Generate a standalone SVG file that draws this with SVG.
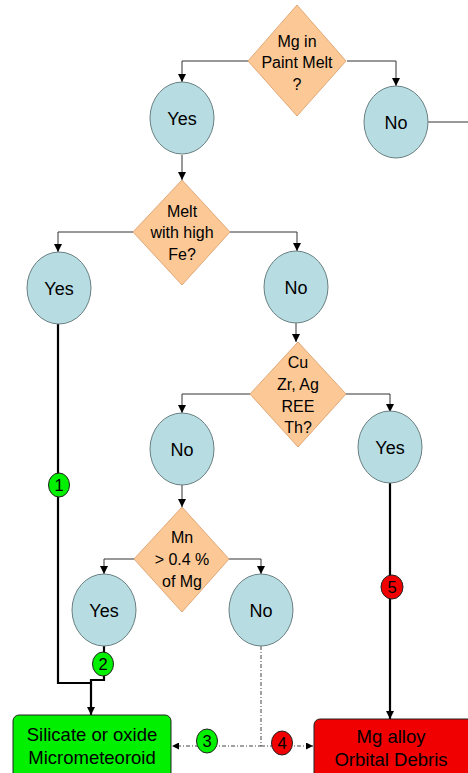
<svg xmlns="http://www.w3.org/2000/svg" width="468" height="773" viewBox="0 0 468 773">
<defs>
<marker id="ah" viewBox="0 0 8 8" refX="8" refY="4" markerWidth="8" markerHeight="8" markerUnits="userSpaceOnUse" orient="auto">
<path d="M0,0 L8,4 L0,8 z" fill="#000"/>
</marker>
<marker id="ahs" viewBox="0 0 8 8" refX="8" refY="4" markerWidth="7" markerHeight="7" markerUnits="userSpaceOnUse" orient="auto">
<path d="M0,0 L8,4 L0,8 z" fill="#000"/>
</marker>
</defs>
<style>
text{font-family:"Liberation Sans",Arial,sans-serif;fill:#000;text-anchor:middle}
.dia{fill:#fcc896;stroke:#e0a878;stroke-width:1}
.dt{font-size:16px}
.cir{fill:#b7dde2;stroke:#6a7f82;stroke-width:1}
.ct{font-size:18px}
.thin{fill:none;stroke:#333;stroke-width:1}
.thick{fill:none;stroke:#000;stroke-width:2.2}
.dash{fill:none;stroke:#444;stroke-width:1;stroke-dasharray:4,2,1,2}
.bg{fill:#00f000;stroke:#222;stroke-width:1}
.br{fill:#f00000;stroke:#222;stroke-width:1}
.bt{font-size:16.5px}
.box{font-size:18.5px}
</style>
<g id="connectors">
<path class="thin" d="M248,61 H182 V82" marker-end="url(#ah)"/>
<path class="thin" d="M347,61 H396 V86" marker-end="url(#ah)"/>
<path class="thin" d="M428,122 H468"/>
<path class="thin" d="M182,155 V180" marker-end="url(#ah)"/>
<path class="thin" d="M133,232 H58 V252" marker-end="url(#ah)"/>
<path class="thin" d="M230,232 H297 V251" marker-end="url(#ah)"/>
<path class="thin" d="M296,323 V342" marker-end="url(#ah)"/>
<path class="thin" d="M250,394 H182 V413" marker-end="url(#ah)"/>
<path class="thin" d="M346,394 H390 V412" marker-end="url(#ah)"/>
<path class="thin" d="M182,484 V507" marker-end="url(#ah)"/>
<path class="thin" d="M134,559 H104 V574" marker-end="url(#ah)"/>
<path class="thin" d="M229,559 H261 V574" marker-end="url(#ah)"/>
<path class="thick" d="M58,324 V683 H91"/>
<path class="thick" d="M104,646 V680 H91 V715" marker-end="url(#ah)"/>
<path class="thick" d="M390,483 V719" marker-end="url(#ah)"/>
<path class="dash" d="M261,646 V746 H172" marker-end="url(#ahs)"/>
<path class="dash" d="M261,746 H313" marker-end="url(#ahs)"/>
</g>
<g id="q1">
<polygon class="dia" points="297,5 346,61 297,116 248,61"/>
<text class="dt" x="297" y="47">Mg in</text>
<text class="dt" x="297" y="68">Paint Melt</text>
<text class="dt" x="297" y="90">?</text>
</g>
<g id="yes1">
<ellipse class="cir" cx="182" cy="118" rx="32" ry="36"/>
<text class="ct" x="182" y="125">Yes</text>
</g>
<g id="no1">
<ellipse class="cir" cx="396" cy="122" rx="32" ry="36"/>
<text class="ct" x="396" y="129">No</text>
</g>
<g id="q2">
<polygon class="dia" points="182,180 230,232 182,285 133,232"/>
<text class="dt" x="182" y="217">Melt</text>
<text class="dt" x="182" y="238">with high</text>
<text class="dt" x="182" y="260">Fe?</text>
</g>
<g id="yes2">
<ellipse class="cir" cx="59" cy="288" rx="32" ry="36"/>
<text class="ct" x="59" y="295">Yes</text>
</g>
<g id="no2">
<ellipse class="cir" cx="296" cy="287" rx="32" ry="36"/>
<text class="ct" x="296" y="294">No</text>
</g>
<g id="q3">
<polygon class="dia" points="298,342 346,394 298,447 250,394"/>
<text class="dt" x="298" y="368">Cu</text>
<text class="dt" x="298" y="390">Zr, Ag</text>
<text class="dt" x="298" y="412">REE</text>
<text class="dt" x="298" y="433">Th?</text>
</g>
<g id="no3">
<ellipse class="cir" cx="182" cy="449" rx="32" ry="36"/>
<text class="ct" x="182" y="456">No</text>
</g>
<g id="yes3">
<ellipse class="cir" cx="390" cy="447" rx="32" ry="36"/>
<text class="ct" x="390" y="454">Yes</text>
</g>
<g id="q4">
<polygon class="dia" points="182,507 229,559 182,612 134,559"/>
<text class="dt" x="182" y="543">Mn</text>
<text class="dt" x="182" y="565">&gt; 0.4 %</text>
<text class="dt" x="182" y="587">of Mg</text>
</g>
<g id="yes4">
<ellipse class="cir" cx="104" cy="610" rx="32" ry="36"/>
<text class="ct" x="104" y="617">Yes</text>
</g>
<g id="no4">
<ellipse class="cir" cx="261" cy="610" rx="32" ry="36"/>
<text class="ct" x="261" y="617">No</text>
</g>
<g id="b1">
<ellipse class="bg" cx="59" cy="485" rx="10.5" ry="12"/>
<text class="bt" x="59" y="491">1</text>
</g>
<g id="b2">
<ellipse class="bg" cx="103" cy="664" rx="10.5" ry="12"/>
<text class="bt" x="103" y="670">2</text>
</g>
<g id="b3">
<ellipse class="bg" cx="207" cy="741" rx="10.5" ry="12"/>
<text class="bt" x="207" y="747">3</text>
</g>
<g id="b4">
<ellipse class="br" cx="282" cy="743" rx="10.5" ry="12"/>
<text class="bt" x="282" y="749">4</text>
</g>
<g id="b5">
<ellipse class="br" cx="392" cy="587" rx="11" ry="12"/>
<text class="bt" x="392" y="593">5</text>
</g>
<g id="micrometeoroid">
<rect x="13" y="715" width="158" height="70" rx="6" fill="#00f000" stroke="#222" stroke-width="1"/>
<text class="box" x="92" y="741">Silicate or oxide</text>
<text class="box" x="92" y="764">Micrometeoroid</text>
</g>
<g id="debris">
<rect x="314" y="719" width="166" height="70" rx="6" fill="#f00000" stroke="#222" stroke-width="1"/>
<text class="box" x="391" y="743">Mg alloy</text>
<text class="box" x="391" y="766">Orbital Debris</text>
</g>
</svg>
